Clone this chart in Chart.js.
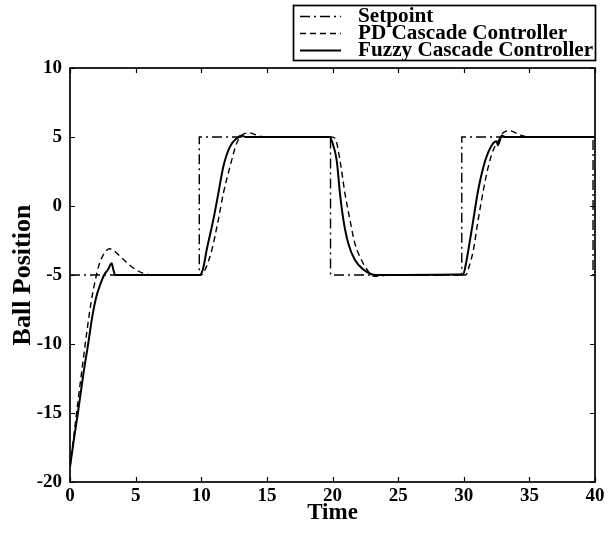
<!DOCTYPE html>
<html>
<head>
<meta charset="utf-8">
<script src="https://cdn.jsdelivr.net/npm/chart.js@4.4.1/dist/chart.umd.min.js"></script>
<style>
  html, body { margin: 0; padding: 0; background: #fff; }
  #wrap { width: 616px; height: 533px; }
</style>
</head>
<body>
<div id="wrap"><canvas id="c" width="616" height="533"></canvas></div>
<script>
// ---- data ----
const seriesNames = ['Setpoint', 'PD Cascade Controller', 'Fuzzy Cascade Controller'];

const setpointT = [0, 9.85, 9.85, 19.85, 19.85, 29.85, 29.85, 39.85, 39.85, 40];
const setpointV = [-5, -5, 5, 5, -5, -5, 5, 5, -5, -5];

const pdT = [0, 0.3, 0.6, 1.0, 1.3, 1.6, 1.9, 2.2, 2.5, 2.8, 3.0, 3.3, 3.6, 4.0, 4.5, 5.0, 5.5, 6.0, 6.5,
  10.0, 10.3, 10.8, 11.3, 11.68, 12.19, 12.7, 13.2, 13.7, 14.3, 15,
  19.9, 20.2, 20.57, 20.95, 21.33, 21.7, 22.2, 22.7, 23.2, 23.8, 24.5,
  30.15, 30.4, 30.73, 31.1, 31.5, 31.87, 32.25, 32.6, 33.0, 33.5, 34.3, 35, 40];
const pdV = [-18.9, -16.6, -14.2, -11.2, -9, -7, -5.5, -4.3, -3.6, -3.2, -3.1, -3.2, -3.45, -3.8, -4.25, -4.6, -4.85, -4.97, -5,
  -5, -4.6, -3.2, -1.0, 0.9, 2.85, 4.55, 5.2, 5.3, 5.1, 5.0,
  5.0, 4.9, 3.3, 0.9, -1.0, -2.7, -3.9, -4.7, -5.1, -5.05, -5,
  -5, -4.4, -3.2, -1.0, 1.16, 2.85, 4.06, 4.66, 5.3, 5.45, 5.15, 5.0, 5.0];

const fuzzyT = [0, 0.3, 0.6, 1.0, 1.4, 1.7, 2.0, 2.3, 2.6, 2.9, 3.17, 3.3, 3.45,
  9.9, 10.15, 10.41, 10.92, 11.3, 11.68, 12.19, 12.7, 13.08, 13.4,
  19.8, 19.95, 20.32, 20.57, 20.83, 21.2, 21.7, 22.35, 22.98, 23.3,
  29.97, 30.1, 30.35, 30.73, 31.1, 31.5, 31.87, 32.25, 32.5, 32.6, 32.7, 32.89, 33.2, 40];
const fuzzyV = [-18.9, -16.9, -15, -12.3, -9.9, -8, -6.6, -5.7, -5.0, -4.6, -4.15, -4.6, -5,
  -5, -4.5, -3.2, -1.0, 0.9, 2.85, 4.3, 4.9, 5.1, 5.0,
  5.0, 4.7, 3.3, 0.9, -1.0, -2.7, -3.9, -4.6, -4.95, -5,
  -4.95, -4.5, -3.2, -1.0, 1.16, 2.85, 3.9, 4.55, 4.7, 4.4, 4.6, 5.1, 5.0, 5.0];

const xTicks = [0, 5, 10, 15, 20, 25, 30, 35, 40];
const yTicks = [-20, -15, -10, -5, 0, 5, 10];

const toPts = (T, V) => T.map((t, i) => ({ x: t, y: V[i] }));
const SERIF = '"Liberation Serif", "DejaVu Serif", serif';

// ---- plugins: boxed frame with inward ticks, and boxed legend ----
const framePlugin = {
  id: 'frame',
  afterDraw(chart) {
    const { ctx, chartArea: a, scales } = chart;
    const xs = scales.x, ys = scales.y;
    ctx.save();
    ctx.strokeStyle = '#000';
    ctx.setLineDash([]);
    ctx.lineWidth = 1.7;
    ctx.strokeRect(a.left, a.top, a.right - a.left, a.bottom - a.top);
    ctx.lineWidth = 1.2;
    const L = 5;
    ctx.beginPath();
    xTicks.forEach(v => {
      const px = Math.round(xs.getPixelForValue(v)) + 0.5;
      ctx.moveTo(px, a.bottom); ctx.lineTo(px, a.bottom - L);
      ctx.moveTo(px, a.top); ctx.lineTo(px, a.top + L);
    });
    yTicks.forEach(v => {
      const py = Math.round(ys.getPixelForValue(v)) + 0.5;
      ctx.moveTo(a.left, py); ctx.lineTo(a.left + L, py);
      ctx.moveTo(a.right, py); ctx.lineTo(a.right - L, py);
    });
    ctx.stroke();

    // legend box
    const bx = 293.5, by = 5.5, bw = 302, bh = 55;
    ctx.lineWidth = 1.7;
    ctx.strokeRect(bx, by, bw, bh);
    const rows = [16, 33, 50];
    ctx.font = 'bold 20px ' + SERIF;
    ctx.fillStyle = '#000';
    ctx.textBaseline = 'middle';
    chart.data.datasets.forEach((ds, i) => {
      const yy = rows[i] + 0.5;
      ctx.lineWidth = ds.borderWidth;
      ctx.setLineDash(ds.borderDash || []);
      ctx.beginPath();
      ctx.moveTo(300, yy); ctx.lineTo(341, yy);
      ctx.stroke();
      ctx.setLineDash([]);
      ctx.save();
      ctx.translate(358, rows[i] + 1);
      ctx.scale(1.06, 1);
      ctx.fillText(ds.label, 0, 0);
      ctx.restore();
    });
    ctx.restore();
  }
};

new Chart(document.getElementById('c'), {
  type: 'line',
  data: {
    datasets: [
      { label: seriesNames[0], data: toPts(setpointT, setpointV), borderColor: '#000', borderWidth: 1.4,
        borderDash: [10, 4, 2, 4], pointRadius: 0, tension: 0 },
      { label: seriesNames[1], data: toPts(pdT, pdV), borderColor: '#000', borderWidth: 1.4,
        borderDash: [6, 4], pointRadius: 0, cubicInterpolationMode: 'monotone' },
      { label: seriesNames[2], data: toPts(fuzzyT, fuzzyV), borderColor: '#000', borderWidth: 2,
        borderDash: [], pointRadius: 0, cubicInterpolationMode: 'monotone' }
    ]
  },
  options: {
    responsive: false,
    animation: false,
    devicePixelRatio: 1,
    layout: { padding: { top: 68, right: 21, left: 0, bottom: 0 } },
    plugins: { legend: { display: false }, tooltip: { enabled: false } },
    scales: {
      x: {
        type: 'linear', min: 0, max: 40,
        afterBuildTicks: s => { s.ticks = xTicks.map(v => ({ value: v })); },
        afterFit: s => { s.height = 51; },
        grid: { display: false, drawTicks: false },
        border: { display: false },
        ticks: { color: '#000', padding: 3, maxRotation: 0, autoSkip: false,
          font: { family: SERIF, size: 19, weight: 'bold' } },
        title: { display: true, text: 'Time', color: '#000', padding: { top: 0, bottom: 6 },
          font: { family: SERIF, size: 23, weight: 'bold' } }
      },
      y: {
        type: 'linear', min: -20, max: 10,
        afterBuildTicks: s => { s.ticks = yTicks.map(v => ({ value: v })); },
        afterFit: s => { s.width = 70; },
        grid: { display: false, drawTicks: false },
        border: { display: false },
        ticks: { color: '#000', padding: 8, autoSkip: false,
          font: { family: SERIF, size: 19, weight: 'bold' } },
        title: { display: true, text: 'Ball Position', color: '#000', padding: { top: 8, bottom: 0 },
          font: { family: SERIF, size: 26, weight: 'bold' } }
      }
    }
  },
  plugins: [framePlugin]
});
</script>
</body>
</html>
